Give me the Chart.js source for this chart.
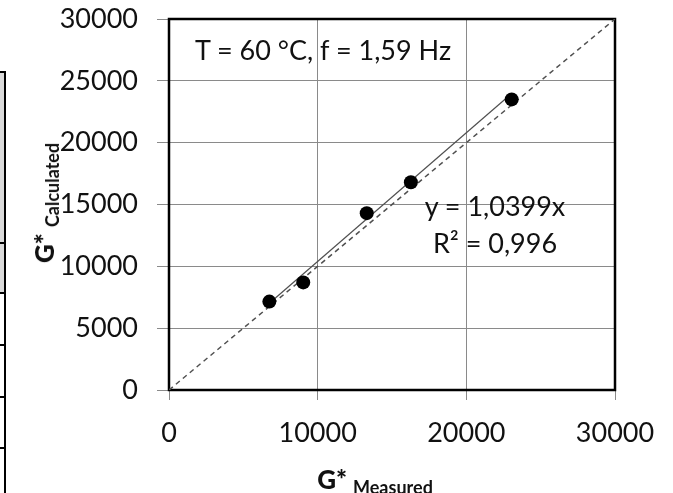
<!DOCTYPE html>
<html>
<head>
<meta charset="utf-8">
<script src="https://cdn.jsdelivr.net/npm/chart.js@4/dist/chart.umd.min.js"></script>
<style>
  html, body { margin: 0; padding: 0; background: #fff; }
  #wrap { position: relative; width: 673px; height: 493px; overflow: hidden;
          font-family: Lato, "Open Sans", sans-serif; color: #111; }
  #wrap canvas { position: absolute; left: 0; top: 0; }
  .note { position: absolute; font-size: 27px; line-height: 27px; white-space: nowrap; }
  .title { position: absolute; white-space: nowrap; font-weight: bold; line-height: 1; }
  .title b { font-size: 26px; }
  .title span { font-size: 18px; position: relative; top: 5px; margin-left: 6px; }
  /* bit of the neighbouring table that got cut into the picture */
  .tbl-fill { position: absolute; left: 0; top: 72px; width: 5px; height: 221px; background: #d9d9d9; }
  .tbl-v { position: absolute; left: 4px; top: 71px; width: 2px; height: 430px; background: #000; }
  .tbl-h { position: absolute; left: 0; width: 6px; height: 2px; background: #000; }
</style>
</head>
<body>
<div id="wrap">
  <div class="tbl-fill"></div>
  <div class="tbl-v"></div>
  <div class="tbl-h" style="top:71px"></div>
  <div class="tbl-h" style="top:242px"></div>
  <div class="tbl-h" style="top:292px"></div>
  <div class="tbl-h" style="top:344px"></div>
  <div class="tbl-h" style="top:396px"></div>
  <div class="tbl-h" style="top:447px"></div>

  <canvas id="chart" width="673" height="493"></canvas>

  <div class="note" style="left:195px; top:36px;">T = 60 °C, f = 1,59 Hz</div>
  <div class="note" style="left:395px; top:187px; width:200px; text-align:center; line-height:37px;">y = 1,0399x<br>R² = 0,996</div>

  <div class="title" id="ytitle" style="left:44px; top:203px; transform:translate(-50%,-50%) rotate(-90deg);"><b>G*</b><span>Calculated</span></div>
  <div class="title" id="xtitle" style="left:375px; top:466px; transform:translateX(-50%);"><b>G*</b><span>Measured</span></div>
</div>

<script>
/* ── DATA ── */
const measured   = [6750, 9030, 13300, 16270, 23050];
const calculated = [7150, 8700, 14300, 16800, 23500];
const xTicks = [0, 10000, 20000, 30000];
const yTicks = [0, 5000, 10000, 15000, 20000, 25000, 30000];
const slope = 1.0399;          // trendline y = 1,0399x
const equalityLine = [0, 30000];

const GRID = '#8a8a8a';
const TICK_FONT = { family: 'Lato', size: 27 };

const points = measured.map((x, i) => ({ x: x, y: calculated[i] }));
const xMin = Math.min(...measured), xMax = Math.max(...measured);
const trend = [{ x: xMin, y: slope * xMin }, { x: xMax, y: slope * xMax }];
const diag = equalityLine.map(v => ({ x: v, y: v }));

/* black frame round the plot area */
const frame = {
  id: 'frame',
  beforeDatasetsDraw(chart) {
    const a = chart.chartArea, ctx = chart.ctx;
    ctx.save();
    ctx.strokeStyle = '#000';
    ctx.lineWidth = 2.5;
    ctx.strokeRect(a.left, a.top, a.right - a.left, a.bottom - a.top);
    ctx.restore();
  }
};

new Chart(document.getElementById('chart'), {
  type: 'scatter',
  data: {
    datasets: [
      { data: points, backgroundColor: '#000', borderWidth: 0, pointRadius: 7, order: 0 },
      { type: 'line', data: trend, borderColor: '#505050', borderWidth: 1.2, pointRadius: 0, order: 1 },
      { type: 'line', data: diag, borderColor: '#505050', borderWidth: 1.5, borderDash: [5, 4], pointRadius: 0, order: 2 }
    ]
  },
  options: {
    responsive: false,
    animation: false,
    layout: { padding: { top: 19, right: 58, left: 0, bottom: 0 } },
    plugins: { legend: { display: false }, tooltip: { enabled: false } },
    scales: {
      x: {
        type: 'linear', min: 0, max: 30000,
        afterBuildTicks: s => { s.ticks = xTicks.map(v => ({ value: v })); },
        afterFit: s => { s.height = 103; s.paddingLeft = 0; s.paddingRight = 0; },
        grid: { color: GRID, lineWidth: 1, drawTicks: true, tickLength: 10, tickColor: GRID },
        border: { display: false },
        ticks: { font: TICK_FONT, color: '#111', padding: 17, maxRotation: 0, callback: v => String(v) }
      },
      y: {
        type: 'linear', min: 0, max: 30000,
        afterBuildTicks: s => { s.ticks = yTicks.map(v => ({ value: v })); },
        afterFit: s => { s.width = 169; s.paddingTop = 0; s.paddingBottom = 0; },
        grid: { color: GRID, lineWidth: 1, drawTicks: true, tickLength: 12, tickColor: GRID },
        border: { display: false },
        ticks: { font: TICK_FONT, color: '#111', padding: 19, callback: v => String(v) }
      }
    }
  },
  plugins: [frame]
});
</script>
</body>
</html>
